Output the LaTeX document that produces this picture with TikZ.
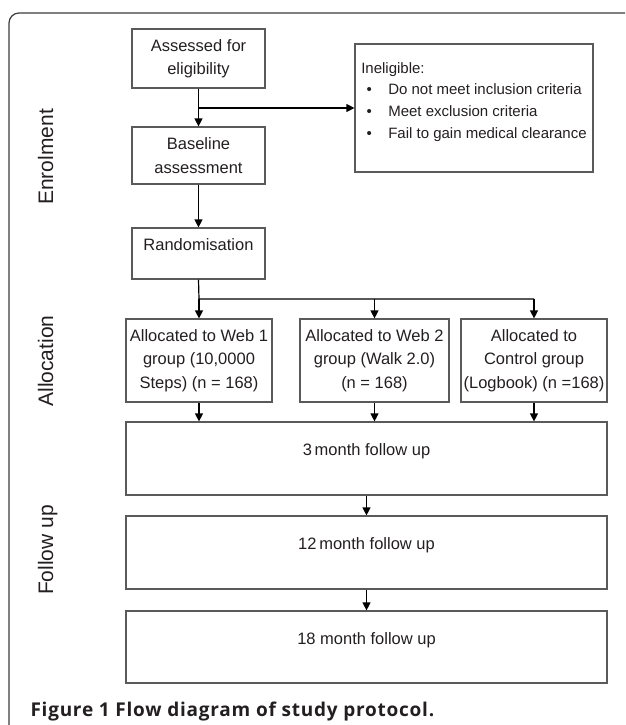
\documentclass[tikz,border=0pt]{standalone}
\usepackage{fontspec}
\setmainfont{Liberation Sans}
\newfontfamily\capfont{Open Sans}[LetterSpace=4]
\usetikzlibrary{arrows.meta}
\definecolor{boxline}{RGB}{90,90,90}
\definecolor{frameline}{RGB}{60,60,60}
\definecolor{ink}{RGB}{35,31,32}
\tikzstyle{box}=[draw=boxline,line width=1.2pt,text=ink,align=center,inner sep=0pt,font=\fontsize{16.5}{23.5}\selectfont]
\tikzstyle{sbox}=[box,minimum width=133pt]
\tikzstyle{gbox}=[box,minimum height=83pt]
\tikzstyle{fbox}=[box,minimum width=481pt,minimum height=73pt]
\tikzstyle{phase}=[rotate=90,anchor=base,text=ink,font=\fontsize{21}{24}\selectfont]
\tikzstyle{arr}=[line width=1.2pt,-{Triangle[length=8pt,width=8pt]}]
\newcommand{\inbullet}{\makebox[27pt][l]{\hspace{5.4pt}\textbullet}}

\begin{document}
\begin{tikzpicture}[x=1pt,y=-1pt]
    \useasboundingbox (0,0) rectangle (625,725);
    \draw[frameline,line width=1.2pt,rounded corners=10pt] (9,725) -- (9,13) -- (625,13);
    \node[phase] (ph1) at (53,157) {Enrolment};
    \node[phase] (ph2) at (53,361) {Allocation};
    \node[phase] (ph3) at (53,550) {Follow up};
    \node[sbox,minimum height=59pt] (elig) at (198.5,58.5) {Assessed for\\eligibility};
    \node[sbox,minimum height=57pt] (base) at (198.5,155.5) {Baseline\\assessment};
    \node[sbox,minimum height=51pt] (rand) at (198.5,253.5) {Randomisation\\[-6pt]~};
    \node[box,minimum width=238pt,minimum height=128pt,align=left,
          font=\fontsize{15}{21.7}\selectfont] (inel) at (474,108)
          {Ineligible:\\
           \inbullet Do not meet inclusion criteria\\
           \inbullet Meet exclusion criteria\\
           \inbullet Fail to gain medical clearance\\[-6.5pt]~};
    \node[gbox,minimum width=146pt] (w1) at (199,360.5) {Allocated to Web 1\\group (10,0000\\Steps) (n = 168)};
    \node[gbox,minimum width=149pt] (w2) at (374.5,360.5) {Allocated to Web 2\\group (Walk 2.0)\\(n = 168)};
    \node[gbox,minimum width=146pt] (ctl) at (534,360.5) {Allocated to\\Control group\\(Logbook) (n =168)};
    \node[fbox] (fu3) at (366.5,458.5) {3\,month follow up\\[-6pt]~};
    \node[fbox] (fu12) at (366.5,552.5) {12\,month follow up\\[-6pt]~};
    \node[fbox,minimum height=72pt] (fu18) at (366.5,647) {18 month follow up\\[-6pt]~};
    \node[anchor=base west,text=ink,font=\capfont\bfseries\fontsize{19}{21}\selectfont] (cap) at (27,716)
          {Figure 1 Flow diagram of study protocol.};
    \coordinate (tee) at (elig.south |- inel.west);
    \coordinate (split) at (199,299);
    \draw[arr] (elig) -- (base);
    \draw[arr] (tee) -- (inel.west);
    \draw[arr] (base) -- (rand);
    \draw[line width=1.2pt] (rand.south) -- (split) -- (split -| ctl.north);
    \draw[arr] (split) -- (w1);
    \draw[arr] (split -| w2.north) -- (w2);
    \draw[arr] (split -| ctl.north) -- (ctl);
    \draw[arr] (w1) -- (w1 |- fu3.north);
    \draw[arr] (w2) -- (w2 |- fu3.north);
    \draw[arr] (ctl) -- (ctl |- fu3.north);
    \draw[arr] (fu3) -- (fu12);
    \draw[arr] (fu12) -- (fu18);
\end{tikzpicture}
\end{document}
